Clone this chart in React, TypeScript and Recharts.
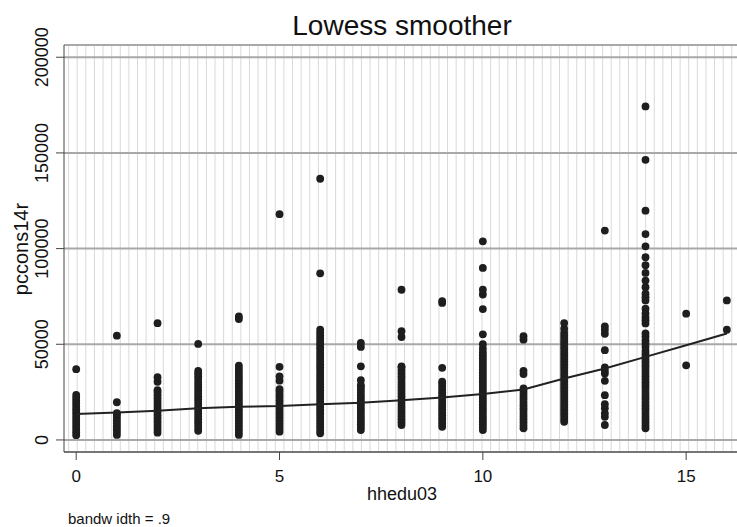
import React from 'react';
import { ScatterChart, Scatter, XAxis, YAxis, CartesianGrid } from 'recharts';

// household head education (years) vs per-capita consumption
const eduYears = [0, 1, 2, 3, 4, 5, 6, 7, 8, 9, 10, 11, 12, 13, 14, 15, 16];

const edu0 = [2500, 4000, 5500, 7000, 8500, 10000, 11500, 13000, 14500, 16000, 17500, 19000, 20500, 22000, 23500, 37000];
const edu1 = [2600, 4100, 5600, 7100, 8600, 10100, 11600, 13100, 14000, 19700, 54500];
const edu2 = [3800, 5300, 6800, 8300, 9800, 11300, 12800, 14300, 15800, 17300, 18800, 20300, 21800, 23300, 24800, 26000, 30400, 32800, 61000];
const edu3 = [4800, 6300, 7800, 9300, 10800, 12300, 13800, 15300, 16800, 18300, 19800, 21300, 22800, 24300, 25800, 27300, 28800, 30300, 31800, 33300, 34800, 36100, 50200];
const edu4 = [2600, 4100, 5600, 7100, 8600, 10100, 11600, 13100, 14600, 16100, 17600, 19100, 20600, 22100, 23600, 25100, 26600, 28100, 29600, 31100, 32600, 34100, 35600, 37100, 38800, 63200, 64500];
const edu5 = [4300, 5800, 7300, 8800, 10300, 11800, 13300, 14800, 16300, 17800, 19300, 20800, 22300, 23800, 25300, 26500, 31000, 33200, 38200, 118000];
const edu6 = [3500, 5000, 6500, 8000, 9500, 11000, 12500, 14000, 15500, 17000, 18500, 20000, 21500, 23000, 24500, 26000, 27500, 29000, 30500, 32000, 33500, 35000, 36500, 38000, 39500, 41000, 42500, 44000, 45500, 47000, 48500, 50000, 51500, 53000, 54500, 56000, 57600, 87100, 136500];
const edu7 = [5200, 6700, 8200, 9700, 11200, 12700, 14200, 15700, 17200, 18700, 20200, 21700, 23200, 24700, 26200, 27700, 28600, 31200, 38500, 48600, 50700];
const edu8 = [7800, 9300, 10800, 12300, 13800, 15300, 16800, 18300, 19800, 21300, 22800, 24300, 25800, 27300, 28800, 30300, 31800, 33300, 34800, 36300, 37800, 38500, 53800, 56800, 78500];
const edu9 = [6900, 8400, 9900, 11400, 12900, 14400, 15900, 17400, 18900, 20400, 21900, 23400, 24900, 26400, 27900, 29400, 30400, 37700, 71600, 72600];
const edu10 = [5200, 6700, 8200, 9700, 11200, 12700, 14200, 15700, 17200, 18700, 20200, 21700, 23200, 24700, 26200, 27700, 29200, 30700, 32200, 33700, 35200, 36700, 38200, 39700, 41200, 42700, 44200, 45700, 47700, 50000, 55200, 68400, 76000, 78500, 89900, 103800];
const edu11 = [6100, 7600, 9100, 10600, 12100, 13600, 15100, 16600, 18100, 19600, 21100, 22600, 24100, 25600, 26900, 34400, 36100, 52400, 54200];
const edu12 = [9500, 11000, 12500, 14000, 15500, 17000, 18500, 20000, 21500, 23000, 24500, 26000, 27500, 29000, 30500, 32000, 33500, 35000, 36500, 38000, 39500, 41000, 42500, 44000, 45500, 47000, 48500, 50000, 51500, 53000, 54500, 56000, 58100, 61100];
const edu13 = [7800, 12100, 13900, 16500, 18700, 23400, 30900, 34700, 36100, 37900, 46900, 55500, 57600, 59400, 109400];
const edu14 = [6100, 7600, 9100, 10600, 12100, 13600, 15100, 16600, 18100, 19600, 21100, 22600, 24100, 25600, 27100, 28600, 30100, 31600, 33100, 34600, 36100, 37600, 39100, 40600, 42100, 43600, 45100, 46600, 48600, 50300, 52000, 54000, 55700, 60900, 62500, 64000, 66100, 68600, 72900, 74600, 76400, 79800, 83300, 87300, 91300, 95500, 101200, 107600, 119800, 146400, 174300];
const edu15 = [39000, 66000];
const edu16 = [57600, 72900];

const lowessValues = [13500, 14400, 15300, 16500, 17300, 17700, 18600, 19400, 20800, 22200, 24000, 26400, 32100, 37300, 43400, 49500, 55600];

const xTicks = [0, 5, 10, 15];
const yTicks = [0, 50000, 100000, 150000, 200000];
const xDomain = [-0.3, 16.25];

const columns = [edu0, edu1, edu2, edu3, edu4, edu5, edu6, edu7, edu8, edu9, edu10, edu11, edu12, edu13, edu14, edu15, edu16];
const points = columns.flatMap((vals, i) => vals.map((v) => ({ x: eduYears[i], y: v })));
const lowess = eduYears.map((e, i) => ({ x: e, y: lowessValues[i] }));

// background pinstripes, roughly every 0.21 units
const stripes = Array.from({ length: 78 }, (_, i) => -0.187 + i * 0.2118);

const font = '"Liberation Sans", Arial, sans-serif';

const XTick = (props: any) => {
  const { x, y, payload } = props;
  return (
    <text x={x} y={y + 20} textAnchor="middle" fontSize={17} fill="#111" fontFamily={font}>
      {payload.value}
    </text>
  );
};

const YTick = (props: any) => {
  const { x, y, payload } = props;
  const bx = x - 6;
  return (
    <text x={bx} y={y} transform={`rotate(-90, ${bx}, ${y})`} textAnchor="middle" fontSize={18} fill="#111" fontFamily={font}>
      {payload.value}
    </text>
  );
};

const Dot = (props: any) => <circle cx={props.cx} cy={props.cy} r={3.9} fill="#1e1e1e" />;

const stripeCoords = (props: any) => {
  const scale = props.xAxis?.scale;
  if (typeof scale === 'function') return stripes.map((v) => scale(v));
  if (scale && typeof scale.map === 'function') return stripes.map((v) => scale.map(v));
  const { offset } = props;
  const [lo, hi] = xDomain;
  return stripes.map((v) => offset.left + ((v - lo) / (hi - lo)) * offset.width);
};

export default function App() {
  return (
    <div style={{ width: 737, height: 527, background: '#fff' }}>
      <style>{'body{margin:0}'}</style>
      <ScatterChart width={737} height={527} margin={{ top: 45, right: 0, bottom: 0, left: 0 }}>
        <CartesianGrid horizontal={false} verticalCoordinatesGenerator={stripeCoords} stroke="#d9d9d9" strokeWidth={1} />
        <CartesianGrid vertical={false} stroke="#a8a8a8" strokeWidth={2} />
        <XAxis
          type="number"
          dataKey="x"
          domain={xDomain}
          ticks={xTicks}
          allowDataOverflow
          height={75}
          tickSize={8}
          stroke="#444"
          tick={<XTick />}
        />
        <YAxis
          type="number"
          dataKey="y"
          domain={[-6300, 206400]}
          ticks={yTicks}
          allowDataOverflow
          width={64}
          tickSize={8}
          stroke="#444"
          tick={<YTick />}
        />
        <Scatter data={points} shape={<Dot />} isAnimationActive={false} />
        <Scatter
          data={lowess}
          line={{ stroke: '#222', strokeWidth: 2 }}
          lineType="joint"
          shape={() => <g />}
          isAnimationActive={false}
        />
        <text x={402} y={35} textAnchor="middle" fontSize={28} fill="#111" fontFamily={font}>
          Lowess smoother
        </text>
        <text x={402} y={500} textAnchor="middle" fontSize={18} fill="#111" fontFamily={font}>
          hhedu03
        </text>
        <text x={28} y={249} transform="rotate(-90, 28, 249)" textAnchor="middle" fontSize={20} fill="#111" fontFamily={font}>
          pccons14r
        </text>
        <text x={68} y={524} fontSize={15} fill="#111" fontFamily={font}>
          bandw idth = .9
        </text>
      </ScatterChart>
    </div>
  );
}
